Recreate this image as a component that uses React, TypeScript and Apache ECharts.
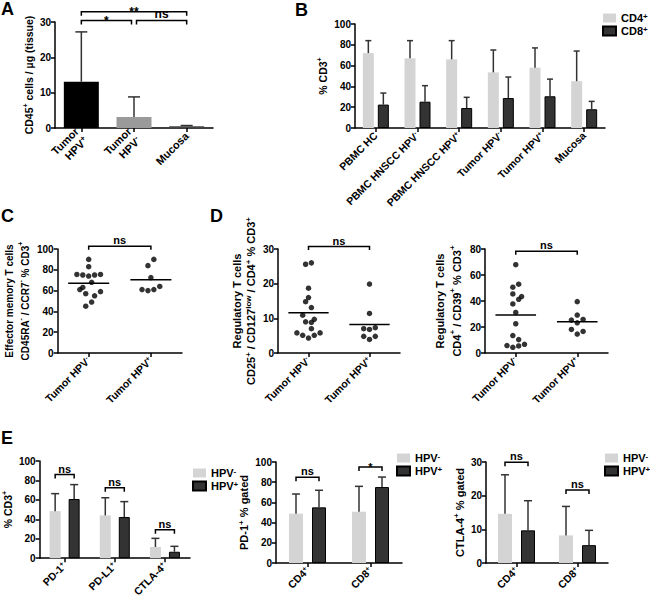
import React, { useEffect, useRef } from 'react';
import * as echarts from 'echarts';

// ---------------- data ----------------
// Panel A
const aCategories = ['Tumor\nHPV^+', 'Tumor\nHPV^-', 'Mucosa'];
const aMeans = [13.1, 3.1, 0.5];
const aUpper = [27.2, 8.8, 0.7];

// Panel B
const bCategories = ['PBMC HC', 'PBMC HNSCC HPV^-', 'PBMC HNSCC HPV^+', 'Tumor HPV^-', 'Tumor HPV^+', 'Mucosa'];
const bCD4 = [72, 67, 66, 53.5, 58, 45];
const bCD4Upper = [84, 84, 84, 75, 77, 74];
const bCD8 = [22.5, 25.3, 19.2, 28.8, 30.5, 18];
const bCD8Upper = [33.6, 40.7, 29.5, 49, 47, 25.6];

// Panels C / D (scatter)
const tumorCategories = ['Tumor HPV^-', 'Tumor HPV^+'];
const cNeg = [90, 83, 75.5, 75, 74, 75, 75.5, 68, 63, 61, 59, 57, 55, 49, 45];
const cPos = [90, 84, 72.5, 64, 61, 60, 61];
const d1Neg = [26.0, 25.6, 18.7, 16.0, 14.8, 13.1, 10.9, 9.7, 9.0, 8.8, 7.0, 5.8, 5.1, 4.3, 5.1, 5.8];
const d1Pos = [19.9, 11.4, 7.0, 7.3, 6.8, 4.8, 4.8, 3.9];
const d2Neg = [67.9, 52.9, 50.6, 45.4, 43.4, 41.3, 37.7, 31.2, 22.5, 13.4, 10.3, 5.7, 4.4, 5.4, 6.7];
const d2Pos = [39.5, 29.2, 25.3, 25.8, 23.2, 18.1, 16.6, 14.6];

// horizontal jitter columns of the dots (layout only)
const cNegCol = [0, 0, -2, -1, 0, 1, 2, 0.5, -1, -1.5, 2, -0.5, 1, 0.5, -0.5];
const cPosCol = [0.5, -0.5, 0, 1.5, -1.5, -0.5, 0.5];
const d1NegCol = [0.5, -0.5, 0, 0, -0.5, 0.5, -1, 1, -0.5, 0.5, 0.5, -2, -1, 0, 1, 2];
const d1PosCol = [0, 0, -1, 1, 0, -1, 1, 0];
const d2NegCol = [0, 0.5, -0.5, -0.5, 1, 0.5, -0.5, 0, 0, -0.5, 0.5, -1.5, -0.5, 0.5, 1.5];
const d2PosCol = [0, 0, -1, 1, 0, -1, 1, 0];

// Panel E
const e1Categories = ['PD-1^+', 'PD-L1^+', 'CTLA-4^+'];
const e1Neg = [48.4, 44, 11.5];
const e1NegUpper = [66.4, 62.2, 20.4];
const e1Pos = [60.9, 42.4, 6.6];
const e1PosUpper = [75.7, 58.2, 12.2];
const e2Categories = ['CD4^+', 'CD8^+'];
const e2Neg = [48.8, 50.8];
const e2NegUpper = [68.3, 75.9];
const e2Pos = [55.1, 75.2];
const e2PosUpper = [72, 85.1];
const e3Neg = [14.6, 8.2];
const e3NegUpper = [26.2, 16.8];
const e3Pos = [9.7, 5.3];
const e3PosUpper = [18.5, 9.7];

// significance annotations
const aBrackets = [
  { x1: 0, x2: 2, y: 32.9, label: '**' },
  { x1: 0, x2: 1, dx2: -2.5, y: 30.4, label: '*' },
  { x1: 1, x2: 2, dx1: 2.5, y: 30.4, label: 'ns' },
];
const cBrackets = [{ x1: 0, x2: 1, y: 102.6, label: 'ns' }];
const d1Brackets = [{ x1: 0, x2: 1, y: 30.7, label: 'ns' }];
const d2Brackets = [{ x1: 0, x2: 1, y: 78.2, label: 'ns' }];
const e1Brackets = [
  { x1: 0, x2: 0, dx1: -9.5, dx2: 9.5, y: 86, label: 'ns' },
  { x1: 1, x2: 1, dx1: -9.5, dx2: 9.5, y: 72.4, label: 'ns' },
  { x1: 2, x2: 2, dx1: -9.5, dx2: 9.5, y: 29.3, label: 'ns' },
];
const e2Brackets = [
  { x1: 0, x2: 0, dx1: -11.5, dx2: 11.5, y: 84.8, label: 'ns' },
  { x1: 1, x2: 1, dx1: -11.5, dx2: 11.5, y: 95, label: '*' },
];
const e3Brackets = [
  { x1: 0, x2: 0, dx1: -11.5, dx2: 11.5, y: 29.9, label: 'ns' },
  { x1: 1, x2: 1, dx1: -11.5, dx2: 11.5, y: 21.7, label: 'ns' },
];

// ---------------- styling helpers ----------------
const FONT = "'Liberation Sans', Arial, Helvetica, sans-serif";
const LIGHT = '#d4d4d4';
const DARK = '#333333';
const A_COLORS = ['#000000', '#9a9a9a', '#444444'];
const COL_STEP = 0.095;
const MEAN_HALF = 0.33;

const toRich = (s: string) => s.replace(/\^(low|[+\-])/g, (_m: string, t: string) => `{sup|${t}}`);
const richSup = (fs: number) => {
  const sf = Math.round(fs * 0.7);
  return { sup: { fontSize: sf, fontWeight: 'bold', fontFamily: FONT, color: '#000', verticalAlign: 'top', lineHeight: sf + 1 } };
};

const grids = [
  { left: 55, top: 22, width: 158, height: 106 }, // A
  { left: 355, top: 24, width: 250, height: 104 }, // B
  { left: 54, top: 249, width: 128, height: 104 }, // C
  { left: 278, top: 249, width: 122, height: 104 }, // D1
  { left: 485, top: 249, width: 123, height: 104 }, // D2
  { left: 37, top: 461, width: 153, height: 101 }, // E1
  { left: 276, top: 462, width: 126, height: 101 }, // E2
  { left: 486, top: 462, width: 122, height: 101 }, // E3
];

const axisLine = { show: true, onZero: false, lineStyle: { color: '#000', width: 1.5 } };
const axisTick = { show: true, length: 4, lineStyle: { color: '#000', width: 1.5 } };

function catAxis(gridIndex: number, data: string[], fs = 10.5) {
  return {
    type: 'category', gridIndex, data, boundaryGap: true,
    axisLine, axisTick: { ...axisTick, alignWithLabel: true },
    axisLabel: {
      rotate: 45, interval: 0, margin: 6, fontSize: fs, fontWeight: 'bold', fontFamily: FONT, color: '#000',
      lineHeight: fs + 2, formatter: (v: string) => toRich(v), rich: richSup(fs),
    },
  };
}

function valAxis(gridIndex: number, max: number, interval: number, name: string, nameGap: number, nfs = 10.5, lh = 14) {
  return {
    type: 'value', gridIndex, min: 0, max, interval,
    name: toRich(name), nameLocation: 'middle', nameRotate: 90, nameGap,
    nameTextStyle: { fontSize: nfs, fontWeight: 'bold', fontFamily: FONT, color: '#000', lineHeight: lh, align: 'center', rich: richSup(nfs) },
    axisLine, axisTick, splitLine: { show: false },
    axisLabel: { fontSize: 10, fontWeight: 'bold', fontFamily: FONT, color: '#000', margin: 4 },
  };
}

function hiddenX(gridIndex: number) {
  return { type: 'value', gridIndex, min: -0.5, max: 1.5, show: false, axisLine: { show: false, onZero: false } };
}

function errSeries(xi: number, yi: number, values: number[], upper: number[], dx: number, cap: number) {
  return {
    type: 'custom', xAxisIndex: xi, yAxisIndex: yi, clip: false, silent: true, z: 4,
    data: values.map((v, i) => [i, v]),
    renderItem: (params: any, api: any) => {
      const i = params.dataIndex;
      const base = api.coord([i, values[i]]);
      const top = api.coord([i, upper[i]]);
      const x = base[0] + dx;
      const st = { stroke: '#333', lineWidth: 1.5 };
      return {
        type: 'group', children: [
          { type: 'line', shape: { x1: x, y1: base[1], x2: x, y2: top[1] }, style: st },
          { type: 'line', shape: { x1: x - cap, y1: top[1], x2: x + cap, y2: top[1] }, style: st },
        ],
      };
    },
  };
}

function bracketSeries(xi: number, yi: number, list: any[], fs = 11, drop = 4) {
  return {
    type: 'custom', xAxisIndex: xi, yAxisIndex: yi, clip: false, silent: true, z: 5,
    data: list.map((b) => [b.x1, b.y]),
    renderItem: (params: any, api: any) => {
      const b = list[params.dataIndex];
      const p1 = api.coord([b.x1, b.y]);
      const p2 = api.coord([b.x2, b.y]);
      const x1 = p1[0] + (b.dx1 || 0);
      const x2 = p2[0] + (b.dx2 || 0);
      const y = p1[1];
      // asterisks sit high in their em box: pull them down onto the bracket
      const ty = b.label.indexOf('*') >= 0 ? y + fs * 0.5 : y - 0.5;
      return {
        type: 'group', children: [
          { type: 'polyline', shape: { points: [[x1, y + drop], [x1, y], [x2, y], [x2, y + drop]] }, style: { stroke: '#000', lineWidth: 1.5, fill: 'none' } },
          { type: 'text', x: (x1 + x2) / 2, y: ty, style: { text: b.label, align: 'center', verticalAlign: 'bottom', fontSize: fs, fontWeight: 'bold', fontFamily: FONT, fill: '#000' } },
        ],
      };
    },
  };
}

function scatterSeries(xi: number, yi: number, neg: number[], negCol: number[], pos: number[], posCol: number[]) {
  const pts = [
    ...neg.map((v, i) => [negCol[i] * COL_STEP, v]),
    ...pos.map((v, i) => [1 + posCol[i] * COL_STEP, v]),
  ];
  return { type: 'scatter', xAxisIndex: xi, yAxisIndex: yi, data: pts, symbol: 'circle', symbolSize: 5.5, itemStyle: { color: '#000' }, silent: true };
}

function meanSeries(xi: number, yi: number, groups: number[][]) {
  const means = groups.map((g) => g.reduce((s, v) => s + v, 0) / g.length);
  return {
    type: 'custom', xAxisIndex: xi, yAxisIndex: yi, clip: false, silent: true, z: 3,
    data: means.map((m, i) => [i, m]),
    renderItem: (params: any, api: any) => {
      const i = params.dataIndex;
      const a = api.coord([i - MEAN_HALF, means[i]]);
      const b = api.coord([i + MEAN_HALF, means[i]]);
      return { type: 'line', shape: { x1: a[0], y1: a[1], x2: b[0], y2: b[1] }, style: { stroke: '#000', lineWidth: 1.5 } };
    },
  };
}

function barPair(xi: number, nameL: string, l: number[], nameD: string, d: number[], w: number, gap: number) {
  const barGap = `${(gap / w) * 100}%`;
  return [
    { type: 'bar', name: nameL, xAxisIndex: xi, yAxisIndex: xi, data: l, barWidth: w, barGap, itemStyle: { color: LIGHT }, silent: true },
    { type: 'bar', name: nameD, xAxisIndex: xi, yAxisIndex: xi, data: d, barWidth: w, barGap, itemStyle: { color: DARK, borderColor: '#000', borderWidth: 1 }, silent: true },
  ];
}

function legend(left: number, top: number, names: string[]) {
  return {
    left, top, orient: 'vertical', itemWidth: 13, itemHeight: 9, itemGap: 1, icon: 'rect', selectedMode: false, padding: 0,
    data: names, formatter: (n: string) => toRich(n),
    textStyle: { fontSize: 11, fontWeight: 'bold', fontFamily: FONT, color: '#000', lineHeight: 12, rich: richSup(11) },
  };
}

function letter(text: string, left: number, top: number) {
  return { type: 'text', left, top, style: { text, fontSize: 18, fontWeight: 'bold', fontFamily: FONT, fill: '#000' } };
}

function buildOption() {
  const xAxis = [
    catAxis(0, aCategories, 11),
    catAxis(1, bCategories),
    catAxis(2, tumorCategories),
    catAxis(3, tumorCategories),
    catAxis(4, tumorCategories),
    catAxis(5, e1Categories),
    catAxis(6, e2Categories),
    catAxis(7, e2Categories),
    hiddenX(2), // 8
    hiddenX(3), // 9
    hiddenX(4), // 10
  ];
  const yAxis = [
    valAxis(0, 30, 10, 'CD45^+ cells / µg (tissue)', 16, 10.5),
    valAxis(1, 100, 20, '% CD3^+', 17, 10.5),
    valAxis(2, 100, 20, 'Effector memory T cells\nCD45RA^- / CCR7^- % CD3^+', 18, 10, 16),
    valAxis(3, 30, 10, 'Regulatory T cells\nCD25^+ / CD127^low / CD4^+ % CD3^+', 20, 11, 14),
    valAxis(4, 80, 20, 'Regulatory T cells\nCD4^+ / CD39^+ % CD3^+', 15, 11, 17),
    valAxis(5, 100, 20, '% CD3^+', 21, 10.5),
    valAxis(6, 100, 20, 'PD-1^+ % gated', 17, 11),
    valAxis(7, 30, 10, 'CTLA-4^+ % gated', 17, 11),
  ];

  const series: any[] = [
    // A
    {
      type: 'bar', xAxisIndex: 0, yAxisIndex: 0, barWidth: 35, silent: true,
      data: aMeans.map((v, i) => ({ value: v, itemStyle: { color: A_COLORS[i] } })),
    },
    errSeries(0, 0, aMeans, aUpper, 0, 6),
    bracketSeries(0, 0, aBrackets, 12),
    // B
    ...barPair(1, 'CD4^+', bCD4, 'CD8^+', bCD8, 11, 4),
    errSeries(1, 1, bCD4, bCD4Upper, -7.5, 3),
    errSeries(1, 1, bCD8, bCD8Upper, 7.5, 3),
    // C
    scatterSeries(8, 2, cNeg, cNegCol, cPos, cPosCol),
    meanSeries(8, 2, [cNeg, cPos]),
    bracketSeries(8, 2, cBrackets, 11, 3.5),
    // D1
    scatterSeries(9, 3, d1Neg, d1NegCol, d1Pos, d1PosCol),
    meanSeries(9, 3, [d1Neg, d1Pos]),
    bracketSeries(9, 3, d1Brackets, 11, 3.5),
    // D2
    scatterSeries(10, 4, d2Neg, d2NegCol, d2Pos, d2PosCol),
    meanSeries(10, 4, [d2Neg, d2Pos]),
    bracketSeries(10, 4, d2Brackets, 11, 3.5),
    // E1
    ...barPair(5, 'HPV^-', e1Neg, 'HPV^+', e1Pos, 11, 8),
    errSeries(5, 5, e1Neg, e1NegUpper, -9.5, 4),
    errSeries(5, 5, e1Pos, e1PosUpper, 9.5, 4),
    bracketSeries(5, 5, e1Brackets, 11, 4),
    // E2
    ...barPair(6, 'HPV^-', e2Neg, 'HPV^+', e2Pos, 14, 9),
    errSeries(6, 6, e2Neg, e2NegUpper, -11.5, 4),
    errSeries(6, 6, e2Pos, e2PosUpper, 11.5, 4),
    bracketSeries(6, 6, e2Brackets, 11, 4),
    // E3
    ...barPair(7, 'HPV^-', e3Neg, 'HPV^+', e3Pos, 14, 9),
    errSeries(7, 7, e3Neg, e3NegUpper, -11.5, 4),
    errSeries(7, 7, e3Pos, e3PosUpper, 11.5, 4),
    bracketSeries(7, 7, e3Brackets, 11, 4),
  ];

  return {
    animation: false,
    backgroundColor: '#ffffff',
    textStyle: { fontFamily: FONT },
    grid: grids.map((g) => ({ ...g, containLabel: false })),
    xAxis,
    yAxis,
    legend: [
      legend(602, 12, ['CD4^+', 'CD8^+']),
      legend(192, 467, ['HPV^-', 'HPV^+']),
      legend(396, 452, ['HPV^-', 'HPV^+']),
      legend(604, 452, ['HPV^-', 'HPV^+']),
    ],
    graphic: [
      letter('A', 1, 0),
      letter('B', 295, 1),
      letter('C', 1, 207),
      letter('D', 210, 207),
      letter('E', 1, 429),
    ],
    series,
  };
}

export default function App() {
  const ref = useRef<HTMLDivElement>(null);
  useEffect(() => {
    if (!ref.current) return;
    const chart = echarts.init(ref.current, null, { renderer: 'svg' });
    chart.setOption(buildOption() as any);
    return () => chart.dispose();
  }, []);
  return <div ref={ref} style={{ position: 'absolute', left: 0, top: 0, width: 650, height: 600, background: '#fff' }} />;
}
